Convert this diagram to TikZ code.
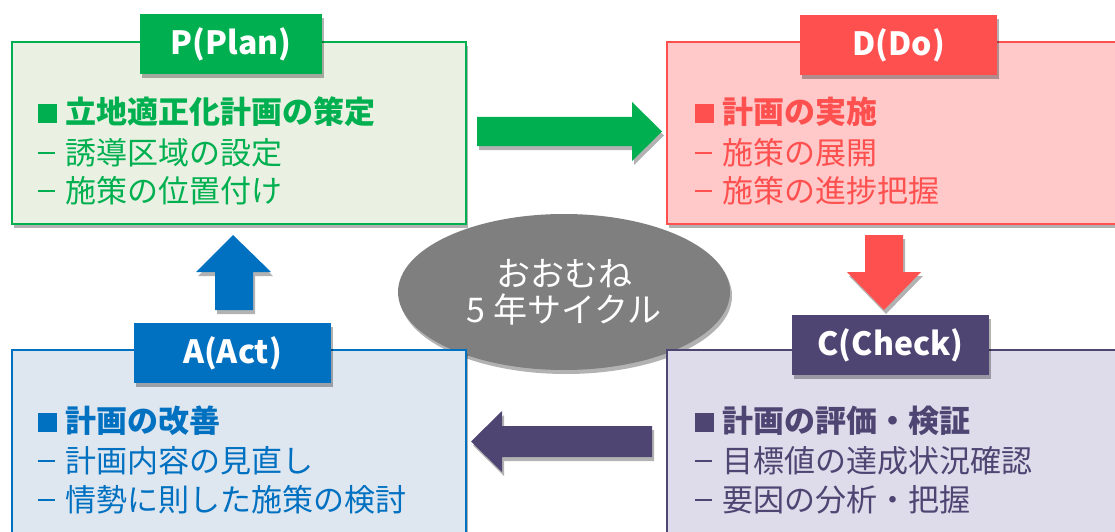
\documentclass[tikz,border=0pt]{standalone}
\usepackage{fontspec}
\setmainfont{Noto Sans CJK JP}
\usetikzlibrary{shadows,shapes.geometric}
\definecolor{pg}{HTML}{00B050}
\definecolor{pgl}{HTML}{EBF1E2}
\definecolor{dr}{HTML}{FF5050}
\definecolor{drl}{HTML}{FFC9C9}
\definecolor{ab}{HTML}{0070C0}
\definecolor{abl}{HTML}{DEE6F0}
\definecolor{cp}{HTML}{4F4573}
\definecolor{cpl}{HTML}{DEDCEA}
\definecolor{eg}{HTML}{7F7F7F}
\tikzset{
  shad/.style={drop shadow={shadow xshift=2pt,shadow yshift=-4pt,opacity=.3,fill=black}},
  bigbox/.style={shape=rectangle,line width=2.2pt,minimum width=454pt,minimum height=182pt,inner sep=0pt,shad},
  tag/.style={shape=rectangle,minimum width=190pt,minimum height=60pt,inner sep=0pt,text=white,font=\bfseries\fontsize{32}{36}\selectfont,shad},
  line/.style={anchor=west,inner sep=0pt,font=\fontsize{31}{36}\selectfont},
  hline/.style={line,font=\bfseries\fontsize{31}{36}\selectfont},
  blk/.style={shad}
}
\newcommand{\sq}{\makebox[27pt][l]{\rule[0.5pt]{19pt}{19pt}}}
\newcommand{\ds}{\makebox[27pt][l]{\rule[10.8pt]{17pt}{2.2pt}}}
\begin{document}
\begin{tikzpicture}[x=1pt,y=-1pt]
\useasboundingbox (0,0) rectangle (1115,532);
% central ellipse
\node[ellipse,fill=eg,minimum width=332pt,minimum height=156pt,inner sep=0pt,shad,text=white,align=center,font=\fontsize{34}{36}\selectfont] (cyc) at (564,292) {おおむね\\5 年サイクル};
% boxes
\node[bigbox,draw=pg,fill=pgl] (pbox) at (239,133) {};
\node[bigbox,draw=dr,fill=drl] (dbox) at (894,133) {};
\node[bigbox,draw=ab,fill=abl,minimum height=200pt] (abox) at (239,450) {};
\node[bigbox,draw=cp,fill=cpl,minimum height=200pt] (cbox) at (894,450) {};
% tags
\node[tag,fill=pg,minimum width=182pt] (ptag) at (231,44) {P(Plan)};
\node[tag,fill=dr,minimum width=197pt] (dtag) at (898.5,45) {D(Do)};
\node[tag,fill=ab,minimum width=197pt] (atag) at (232.5,353) {A(Act)};
\node[tag,fill=cp,minimum width=197pt] (ctag) at (890.5,345) {C(Check)};
% texts P
\node[hline,text=pg] (p1) at (38,112) {\sq 立地適正化計画の策定};
\node[line,text=pg] (p2) at (38,153) {\ds 誘導区域の設定};
\node[line,text=pg] (p3) at (38,191) {\ds 施策の位置付け};
% texts D
\node[hline,text=dr] (d1) at (695,112) {\sq 計画の実施};
\node[line,text=dr] (d2) at (695,153) {\ds 施策の展開};
\node[line,text=dr] (d3) at (695,191) {\ds 施策の進捗把握};
% texts A
\node[hline,text=ab] (a1) at (38,421) {\sq 計画の改善};
\node[line,text=ab] (a2) at (38,461) {\ds 計画内容の見直し};
\node[line,text=ab] (a3) at (38,500) {\ds 情勢に則した施策の検討};
% texts C
\node[hline,text=cp] (c1) at (695,421) {\sq 計画の評価・検証};
\node[line,text=cp] (c2) at (695,461) {\ds 目標値の達成状況確認};
\node[line,text=cp] (c3) at (695,500) {\ds 要因の分析・把握};
% block arrows
\fill[pg,blk] (477,117) -- (632,117) -- (632,102) -- (662,131.5) -- (632,161) -- (632,146) -- (477,146) -- cycle;
\fill[dr,blk] (865,235) -- (903,235) -- (903,272) -- (921,272) -- (884,310) -- (847,272) -- (865,272) -- cycle;
\fill[ab,blk] (215,310) -- (253,310) -- (253,272) -- (271,272) -- (233,235) -- (196,272) -- (215,272) -- cycle;
\fill[cp,blk] (652,426) -- (502,426) -- (502,411) -- (471,441.5) -- (502,472) -- (502,457) -- (652,457) -- cycle;
\end{tikzpicture}
\end{document}
